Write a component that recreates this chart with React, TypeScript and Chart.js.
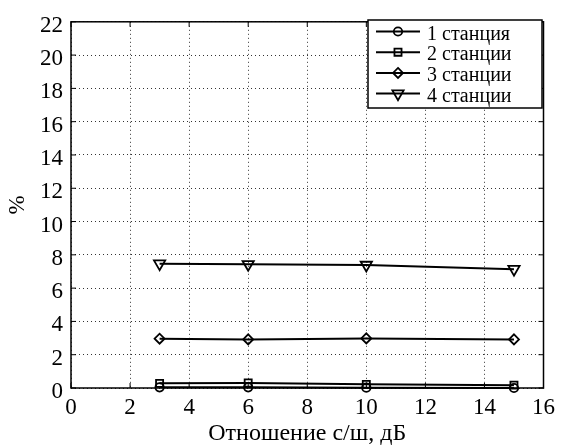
import React, { useEffect, useRef } from "react";
import { Chart, registerables } from "chart.js";

Chart.register(...registerables);

const xValues = [3, 6, 10, 15];
const series1 = [0.04, 0.04, 0.02, 0.0];
const series2 = [0.28, 0.3, 0.22, 0.17];
const series3 = [2.96, 2.92, 2.98, 2.92];
const series4 = [7.47, 7.43, 7.39, 7.14];
const seriesLabels = ["1 станция", "2 станции", "3 станции", "4 станции"];
const xTicks = [0, 2, 4, 6, 8, 10, 12, 14, 16];
const yTicks = [0, 2, 4, 6, 8, 10, 12, 14, 16, 18, 20, 22];
const xTitle = "Отношение с/ш, дБ";
const yTitle = "%";

const FONT = "'Liberation Serif', 'Times New Roman', serif";

const markerDefs = [
  { style: "circle", rotation: 0, radius: 4.2 },
  { style: "rect", rotation: 0, radius: 5 },
  { style: "rectRot", rotation: 0, radius: 5 },
  { style: "triangle", rotation: 180, radius: 6.5 },
];

function drawMarker(ctx: any, style: string, r: number, x: number, y: number) {
  ctx.beginPath();
  if (style === "circle") {
    ctx.arc(x, y, r, 0, Math.PI * 2);
  } else if (style === "rect") {
    const s = r * Math.SQRT1_2;
    ctx.rect(x - s, y - s, 2 * s, 2 * s);
  } else if (style === "rectRot") {
    ctx.moveTo(x, y - r);
    ctx.lineTo(x + r, y);
    ctx.lineTo(x, y + r);
    ctx.lineTo(x - r, y);
    ctx.closePath();
  } else {
    const w = r * Math.sqrt(3) / 2;
    ctx.moveTo(x - w, y - r / 2);
    ctx.lineTo(x + w, y - r / 2);
    ctx.lineTo(x, y + r);
    ctx.closePath();
  }
  ctx.stroke();
}

const framePlugin = {
  id: "frame",
  afterDatasetsDraw(chart: any) {
    const { ctx, chartArea: a, scales } = chart;
    const xs = scales.x;
    const ys = scales.y;
    ctx.save();
    ctx.strokeStyle = "#000";
    ctx.lineWidth = 1.5;
    ctx.setLineDash([]);
    ctx.strokeRect(a.left, a.top, a.right - a.left, a.bottom - a.top);
    ctx.lineWidth = 1;
    const tl = 5;
    ctx.beginPath();
    xTicks.forEach((v) => {
      const px = xs.getPixelForValue(v);
      ctx.moveTo(px, a.bottom);
      ctx.lineTo(px, a.bottom - tl);
      ctx.moveTo(px, a.top);
      ctx.lineTo(px, a.top + tl);
    });
    yTicks.forEach((v) => {
      const py = ys.getPixelForValue(v);
      ctx.moveTo(a.left, py);
      ctx.lineTo(a.left + tl, py);
      ctx.moveTo(a.right, py);
      ctx.lineTo(a.right - tl, py);
    });
    ctx.stroke();

    // legend box inside the plot area (top right)
    const bx = 368, by = 20, bw = 174, bh = 88;
    ctx.fillStyle = "#fff";
    ctx.fillRect(bx, by, bw, bh);
    ctx.lineWidth = 1.5;
    ctx.strokeStyle = "#000";
    ctx.strokeRect(bx, by, bw, bh);
    ctx.font = `20px ${FONT}`;
    ctx.textBaseline = "middle";
    ctx.textAlign = "left";
    chart.data.datasets.forEach((ds: any, i: number) => {
      const y = by + 11.5 + i * 20.7;
      ctx.strokeStyle = "#000";
      ctx.lineWidth = 2;
      ctx.beginPath();
      ctx.moveTo(bx + 8, y);
      ctx.lineTo(bx + 52, y);
      ctx.stroke();
      ctx.lineWidth = 1.8;
      const m = markerDefs[i];
      drawMarker(ctx, m.style, m.radius, bx + 30, y);
      ctx.fillStyle = "#000";
      ctx.fillText(ds.label, bx + 59, y + 3);
    });
    ctx.restore();
  },
};

export default function App() {
  const ref = useRef<HTMLCanvasElement | null>(null);
  useEffect(() => {
    document.body.style.margin = "0";
    const allSeries = [series1, series2, series3, series4];
    const chart = new Chart(ref.current as HTMLCanvasElement, {
      type: "line",
      data: {
        datasets: allSeries.map((s, i) => ({
          label: seriesLabels[i],
          data: s.map((v, j) => ({ x: xValues[j], y: v })),
          borderColor: "#000",
          borderWidth: 2,
          pointStyle: markerDefs[i].style as any,
          rotation: markerDefs[i].rotation,
          pointRadius: markerDefs[i].radius,
          pointBorderWidth: 1.8,
          pointBorderColor: "#000",
          pointBackgroundColor: "rgba(0,0,0,0)",
          tension: 0,
          clip: false as any,
        })),
      },
      options: {
        responsive: false,
        animation: false,
        devicePixelRatio: 1,
        layout: { padding: { top: 14, right: 16, left: 0, bottom: 0 } },
        plugins: { legend: { display: false }, tooltip: { enabled: false } },
        scales: {
          x: {
            type: "linear",
            min: 0,
            max: 16,
            afterFit: (s: any) => {
              s.height = 60;
            },
            afterBuildTicks: (s: any) => {
              s.ticks = xTicks.map((v) => ({ value: v }));
            },
            ticks: {
              color: "#000",
              font: { family: FONT, size: 23 },
              padding: 6,
              maxRotation: 0,
            },
            grid: { color: "#333", lineWidth: 1, drawTicks: false },
            border: { display: false, dash: [1, 3] },
            title: {
              display: true,
              text: xTitle,
              color: "#000",
              font: { family: FONT, size: 24 },
              padding: { top: 0, bottom: 0 },
            },
          },
          y: {
            type: "linear",
            min: 0,
            max: 22,
            afterFit: (s: any) => {
              s.width = 71;
            },
            afterBuildTicks: (s: any) => {
              s.ticks = yTicks.map((v) => ({ value: v }));
            },
            ticks: {
              color: "#000",
              font: { family: FONT, size: 23 },
              padding: 8,
              labelOffset: 4,
            },
            grid: { color: "#333", lineWidth: 1, drawTicks: false },
            border: { display: false, dash: [1, 3] },
            title: {
              display: true,
              text: yTitle,
              color: "#000",
              font: { family: FONT, size: 23 },
              padding: { top: 4, bottom: 0 },
            },
          },
        },
      },
      plugins: [framePlugin],
    });
    return () => chart.destroy();
  }, []);
  return (
    <div style={{ width: 561, height: 448 }}>
      <canvas ref={ref} width={561} height={448} />
    </div>
  );
}
